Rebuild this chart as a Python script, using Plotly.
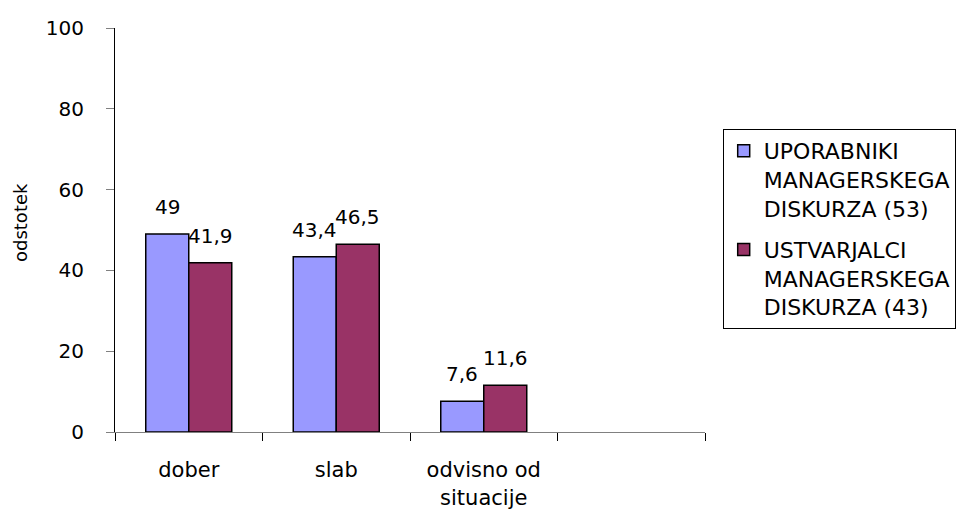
import plotly.graph_objects as go

# Categories on the x axis (the last slot is intentionally empty)
categories = ["dober", "slab", "odvisno od<br>situacije", " "]

# Percentages per group
uporabniki = [49, 43.4, 7.6, None]
ustvarjalci = [41.9, 46.5, 11.6, None]

series_names = [
    "UPORABNIKI<br>MANAGERSKEGA<br>DISKURZA (53)",
    "USTVARJALCI<br>MANAGERSKEGA<br>DISKURZA (43)",
]
series_colors = ["#9999FF", "#993366"]

y_ticks = [0, 20, 40, 60, 80, 100]

FONT = "DejaVu Sans"

W, H = 957, 509
ML, MR, MT, MB = 115, 252, 28, 77
plot_w = W - ML - MR
slot_w = plot_w / len(categories)
bar_w = 43  # pixel width of each bar
group_frac = 2 * bar_w / slot_w

fig = go.Figure()
for name, vals, col in zip(series_names, [uporabniki, ustvarjalci], series_colors):
    fig.add_trace(go.Bar(
        x=categories, y=vals, name=name, legendgroup=name,
        marker=dict(color=col, line=dict(color="black", width=1.5)),
        hoverinfo="skip",
    ))

# value labels above the bars, decimal comma
annotations = []
for k, vals in enumerate([uporabniki, ustvarjalci]):
    shift = (k - 0.5) * bar_w
    for cat, v in zip(categories, vals):
        if v is None:
            continue
        annotations.append(dict(
            x=cat, y=v, xref="x", yref="y", text=f"{v:g}".replace(".", ","),
            showarrow=False, xshift=shift, yshift=27, yanchor="middle",
            font=dict(family=FONT, size=20, color="black"),
        ))

# y axis title
annotations.append(dict(
    x=0, y=0.5, xref="paper", yref="paper", text="odstotek", textangle=-90,
    showarrow=False, xshift=-95, yshift=7, xanchor="center", yanchor="middle",
    font=dict(family=FONT, size=18, color="black"),
))

fig.update_layout(
    width=W, height=H,
    margin=dict(l=ML, r=MR, t=MT, b=MB, autoexpand=False),
    paper_bgcolor="white", plot_bgcolor="white",
    barmode="group", bargap=1 - group_frac, bargroupgap=0,
    font=dict(family=FONT, size=20, color="black"),
    annotations=annotations,
    legend=dict(
        x=1.03, xanchor="left", y=0.75, yanchor="top",
        bordercolor="black", borderwidth=1, bgcolor="white",
        font=dict(family=FONT, size=22, color="black"),
        valign="top", traceorder="grouped", tracegroupgap=10,
    ),
    showlegend=True,
)

fig.update_xaxes(
    type="category", categoryorder="array", categoryarray=categories,
    range=[-0.5, len(categories) - 0.5],
    showline=True, linecolor="#808080", linewidth=1,
    ticks="outside", tickson="boundaries", ticklen=8, tickcolor="black", tickwidth=1,
    showgrid=False, zeroline=False, ticklabelstandoff=19,
    tickfont=dict(family=FONT, size=21, color="black"),
)
fig.update_yaxes(
    range=[0, 100], tickvals=y_ticks,
    showline=True, linecolor="black", linewidth=1,
    ticks="outside", ticklen=8, tickcolor="#808080", tickwidth=1,
    showgrid=False, zeroline=False, ticklabelstandoff=18,
    tickfont=dict(family=FONT, size=20, color="black"),
)

fig.write_html("out.html")
